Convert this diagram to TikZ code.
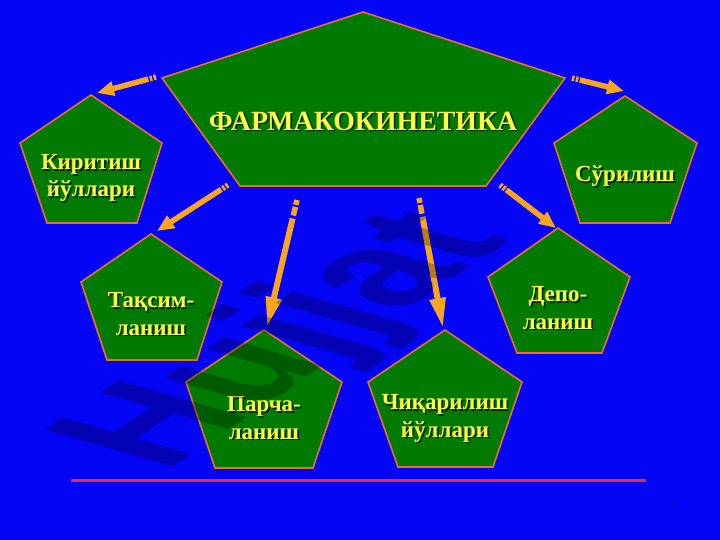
\documentclass[tikz,border=0pt]{standalone}
\usepackage{fontspec}
\setmainfont{Liberation Serif}
\newfontfamily\wmfont{Liberation Sans}
\usetikzlibrary{arrows.meta,calc}
\definecolor{bg}{RGB}{5,5,245}
\definecolor{pgreen}{RGB}{0,122,0}
\definecolor{pedge}{RGB}{235,110,45}
\definecolor{arr}{RGB}{250,165,30}
\definecolor{txt}{RGB}{255,255,70}
\definecolor{redline}{RGB}{225,45,70}
\definecolor{pnum}{RGB}{20,20,110}
\newcommand\shd[1]{\makebox[0pt][l]{\hspace{1.6pt}\raisebox{-1.6pt}{\color{black!85!green}#1}}#1}
% short arrow: style, tail, tip
\newcommand\sarrow[3]{%
  \draw[piece] (#2) -- ($(#2)!2.5pt!(#3)$);
  \draw[piece] ($(#2)!4pt!(#3)$) -- ($(#2)!6.5pt!(#3)$);
  \draw[#1] ($(#2)!8pt!(#3)$) -- (#3);}
% long arrow: style, tail, tip
\newcommand\larrow[3]{%
  \draw[piece] (#2) -- ($(#2)!5pt!(#3)$);
  \draw[piece] ($(#2)!7pt!(#3)$) -- ($(#2)!16pt!(#3)$);
  \draw[#1] ($(#2)!19pt!(#3)$) -- (#3);}
\begin{document}
\begin{tikzpicture}[x=1pt,y=-1pt,
  pent/.style={fill=pgreen,draw=pedge,line width=1.6pt,line join=miter},
  lbl/.style={text=txt,font=\fontsize{23}{27.5}\selectfont\bfseries,align=center,inner sep=0pt},
  piece/.style={draw=arr,line width=5.5pt},
  shaft/.style={draw=arr,line width=5.5pt,-{Triangle[length=17pt,width=14pt]}},
  lshaft/.style={draw=arr,line width=6pt,-{Triangle[length=30pt,width=15pt]}}]
\fill[bg] (0,0) rectangle (720,540);
\useasboundingbox (0,0) rectangle (720,540);

% main pentagon
\draw[pent] (363,12) -- (565,78) -- (486,186) -- (240,186) -- (162,78) -- cycle;
\node[lbl,font=\fontsize{27.8}{30}\selectfont\bfseries] (title) at (363,122) {\shd{ФАРМАКОКИНЕТИКА}};

% small pentagons
\draw[pent] (91,95) -- (162,143) -- (137,223) -- (47,223) -- (20,143) -- cycle;
\node[lbl] (kir) at (91,179) {\shd{Киритиш}\\\shd{йўллари}};

\draw[pent] (625,96) -- (697,143) -- (670,223) -- (580,223) -- (554,143) -- cycle;
\node[lbl] (sur) at (625,177) {\shd{Сўрилиш}};

\draw[pent] (151,234) -- (222,282) -- (197,360) -- (107,360) -- (81,282) -- cycle;
\node[lbl] (taq) at (151,315) {\shd{Тақсим-}\\\shd{ланиш}};

\draw[pent] (264,330) -- (342,382) -- (313,468) -- (215,468) -- (186,382) -- cycle;
\node[lbl] (par) at (264,419) {\shd{Парча-}\\\shd{ланиш}};

\draw[pent] (558,228) -- (630,277) -- (602,353) -- (517,353) -- (488,277) -- cycle;
\node[lbl] (dep) at (558,309) {\shd{Депо-}\\\shd{ланиш}};

\draw[pent] (445,330) -- (522,382) -- (493,467) -- (398,467) -- (368,382) -- cycle;
\node[lbl] (chiq) at (445,419) {\shd{Чиқарилиш}\\\shd{йўллари}};

% arrow end points
\coordinate (a1s) at (156,77);  \coordinate (a1e) at (97,93);
\coordinate (a2s) at (572,78);  \coordinate (a2e) at (624,91);
\coordinate (a3s) at (228,185); \coordinate (a3e) at (157,231);
\coordinate (a4s) at (297,200); \coordinate (a4e) at (267,327);
\coordinate (a5s) at (419,198); \coordinate (a5e) at (443,328);
\coordinate (a6s) at (500,185); \coordinate (a6e) at (556,228);

\sarrow{shaft}{a1s}{a1e}
\sarrow{shaft}{a2s}{a2e}
\sarrow{shaft}{a3s}{a3e}
\larrow{lshaft}{a4s}{a4e}
\larrow{lshaft}{a5s}{a5e}
\sarrow{shaft}{a6s}{a6e}

% bottom line and page number
\coordinate (l1) at (71,480); \coordinate (l2) at (646,480);
\draw[redline,line width=3pt] (l1) -- (l2);
\node[text=pnum,font=\fontsize{10}{12}\selectfont] (pg) at (673,503) {7};

% watermark
\node[font=\wmfont\bfseries\fontsize{150}{150}\selectfont,text=black,text opacity=0.26,
      cm={0.829,0.559,-1.24,0.356,(0,0)}] (wm) at (290,342) {Hujjat};
\end{tikzpicture}
\end{document}
